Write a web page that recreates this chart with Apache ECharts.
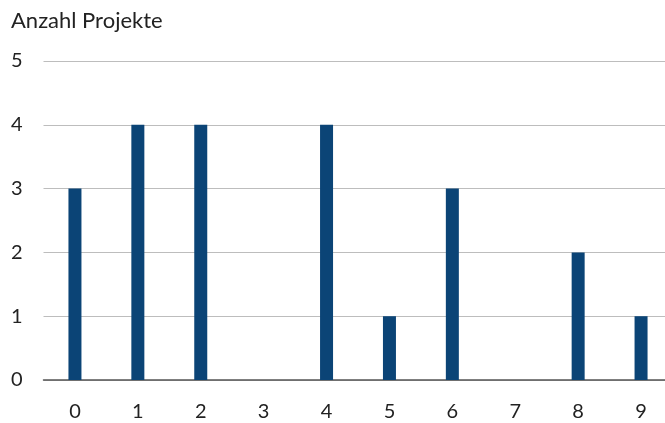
<!DOCTYPE html>
<html><head><meta charset="utf-8">
<script src="https://cdn.jsdelivr.net/npm/echarts@6/dist/echarts.min.js"></script>
<style>html,body{margin:0;padding:0;background:#fff}#c{width:665px;height:423px}</style>
</head><body><div id="c"></div>
<script>
const categories = ['0','1','2','3','4','5','6','7','8','9'];
const values = [3,4,4,0,4,1,3,0,2,1];
const yTicks = [0,1,2,3,4,5];
const chart = echarts.init(document.getElementById('c'), null, {renderer:'canvas'});
chart.setOption({
  animation:false,
  title:{text:'Anzahl Projekte', left:11, top:10, padding:0, textStyle:{fontFamily:'Lato', fontSize:22, fontWeight:'normal', color:'#222'}},
  grid:{left:43.5, right:-7.5, top:61, bottom:43, containLabel:false, outerBoundsMode:'none'},
  xAxis:{type:'category', data:categories,
    axisLine:{lineStyle:{color:'#555', width:1.5}}, axisTick:{show:false},
    axisLabel:{fontFamily:'Lato', fontSize:20, color:'#222', margin:22}},
  yAxis:{type:'value', min:yTicks[0], max:yTicks[yTicks.length-1], interval:1,
    axisLine:{show:false}, axisTick:{show:false},
    splitLine:{lineStyle:{color:'#bdbdbd', width:1.2}},
    axisLabel:{fontFamily:'Lato', fontSize:20, color:'#222', margin:21}},
  series:[{type:'bar', data:values, barWidth:13,
    itemStyle:{color:'#0b4476'}}]
});
</script></body></html>
